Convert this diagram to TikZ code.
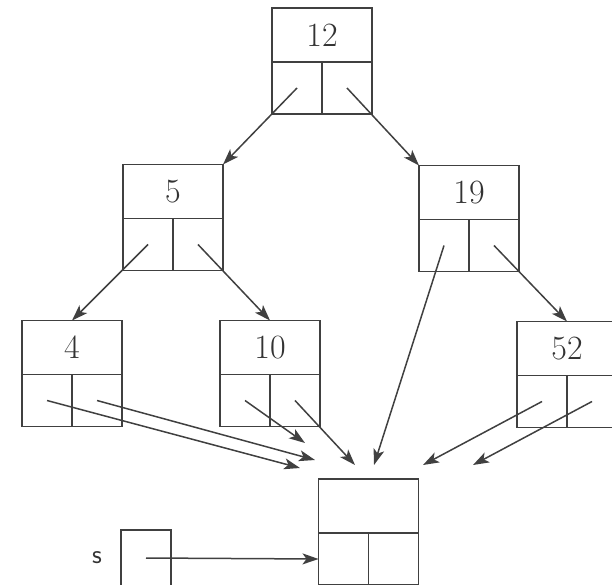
\documentclass[tikz,border=0pt]{standalone}
\usepackage{tikz}
\usetikzlibrary{arrows.meta,positioning}

\tikzset{
  keybox/.style={draw, outer sep=0pt, inner sep=0pt, minimum width=100pt, minimum height=54pt,
    font=\fontsize{34}{36}\selectfont},
  cellbox/.style={draw, outer sep=0pt, inner sep=0pt, minimum width=50pt, minimum height=52pt},
  ptr/.style={-{Stealth[length=16pt,width=11pt,inset=4pt]}},
}

\begin{document}
\begin{tikzpicture}[x=1pt, y=-1pt, line width=1.5pt, draw=black!75, text=black!80]
        \clip (0,0) rectangle (612,585);
        % Draw tree nodes
        \foreach \id/\x/\y in {12/322/35, 5/173/191.5, 19/469/192.5, 4/72/347.5, 10/270/347.5, 52/567/348.5}{
            \node[keybox] (k\id) at (\x,\y) {\id};
            \node[cellbox, anchor=north west] (l\id) at (k\id.south west) {};
            \node[cellbox, anchor=north east] (r\id) at (k\id.south east) {};
        }
        % Draw new node and pointer s
        \node[keybox] (knew) at (368.5,506) {};
        \node[cellbox, anchor=north west] (lnew) at (knew.south west) {};
        \node[cellbox, anchor=north east] (rnew) at (knew.south east) {};
        \node[cellbox, minimum height=56pt] (s) at (146,558) {};
        \node[left=15pt of s, font=\sffamily\fontsize{27}{29}\selectfont] (slabel) {s};

        % Draw child pointers
        \draw[ptr] (l12.center) -- (k5.north east);
        \draw[ptr] (r12.center) -- (k19.north west);
        \draw[ptr] (l5.center) -- (k4.north);
        \draw[ptr] (r5.center) -- (k10.north);
        \draw[ptr] (r19.center) -- (k52.north);
        % Draw pointers to the new node
        \coordinate (n1) at (300,468);
        \coordinate (n2) at (315,460);
        \coordinate (n3) at (305,443);
        \coordinate (n4) at (355,465);
        \coordinate (n5) at (374,465);
        \coordinate (n6) at (423,465);
        \coordinate (n7) at (473,465);
        \draw[ptr] (l4.center) -- (n1);
        \draw[ptr] (r4.center) -- (n2);
        \draw[ptr] (l10.center) -- (n3);
        \draw[ptr] (r10.center) -- (n4);
        \draw[ptr] (l19.center) -- (n5);
        \draw[ptr] (l52.center) -- (n6);
        \draw[ptr] (r52.center) -- (n7);
        \draw[ptr] (s.center) -- (lnew.west);
\end{tikzpicture}
\end{document}
